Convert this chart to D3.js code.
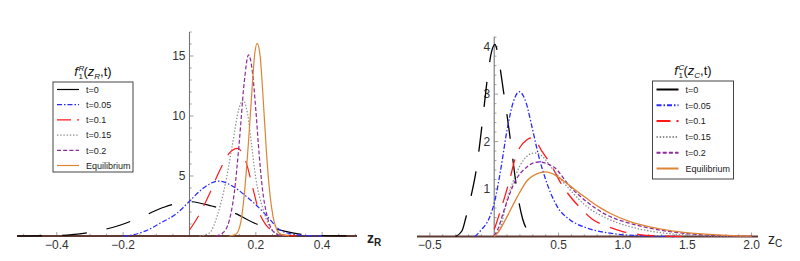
<!DOCTYPE html>
<html>
<head>
<meta charset="utf-8">
<script src="https://cdn.jsdelivr.net/npm/d3@7"></script>
<style>
    body { margin: 0; background: #fff; }
    svg { font-family: "Liberation Sans", Arial, sans-serif; }
    .tick-label { font-size: 12px; fill: #333; }
    .legend-text { font-size: 9px; fill: #222; }
</style>
</head>
<body>
<svg id="chart" width="800" height="261"></svg>
<script>
// series names shared by both panels
const seriesNames = ["t=0", "t=0.05", "t=0.1", "t=0.15", "t=0.2", "Equilibrium"];

// left panel, f1^R(zR,t): [zR, value]
const rT0 = [[-0.52, 0], [-0.42, 0.03], [-0.354, 0.12], [-0.28, 0.4], [-0.21, 0.9], [-0.14, 1.65], [-0.077, 2.4], [0, 2.86], [0.067, 2.5], [0.137, 1.89], [0.202, 1.0], [0.272, 0.5], [0.34, 0.13], [0.4, 0.04], [0.5, 0]];
const rT005 = [[-0.2, 0], [-0.17, 0.1], [-0.13, 0.45], [-0.089, 1.06], [-0.038, 1.89], [0, 2.9], [0.04, 3.95], [0.087, 4.58], [0.13, 4.15], [0.172, 3.28], [0.222, 2.0], [0.245, 1.3], [0.262, 0.75], [0.28, 0.4], [0.302, 0.2], [0.34, 0.05], [0.4, 0]];
const rT01 = [[0, 0.5], [0.03, 1.8], [0.06, 3.5], [0.09, 5.4], [0.12, 6.9], [0.145, 7.3], [0.17, 6.2], [0.19, 4.1], [0.21, 2.0], [0.23, 0.95], [0.25, 0.42], [0.28, 0.1], [0.31, 0.02], [0.35, 0]];
const rT015 = [[0.03, 0], [0.06, 0.25], [0.085, 1.8], [0.11, 4.6], [0.13, 7.7], [0.148, 10.5], [0.162, 11.3], [0.175, 10.2], [0.188, 7.4], [0.2, 4.8], [0.22, 2.4], [0.24, 0.85], [0.26, 0.25], [0.29, 0]];
const rT02 = [[0.08, 0], [0.1, 0.25], [0.12, 1.3], [0.135, 3.6], [0.15, 7.8], [0.165, 12.8], [0.178, 15.1], [0.19, 13.6], [0.2, 10.5], [0.21, 6.8], [0.22, 3.9], [0.232, 1.9], [0.245, 0.7], [0.26, 0.2], [0.28, 0]];
const rEq = [[0.12, 0], [0.14, 0.15], [0.155, 1.2], [0.165, 3.4], [0.177, 7.5], [0.188, 12], [0.196, 15], [0.204, 16.05], [0.213, 15], [0.222, 11.5], [0.232, 7], [0.242, 3.6], [0.252, 1.6], [0.262, 0.6], [0.275, 0.15], [0.3, 0]];

// right panel, f1^C(zC,t)
const cT0 = [[-0.3, 0], [-0.25, 0.12], [-0.22, 0.4], [-0.18, 0.85], [-0.14, 1.4], [-0.11, 2.0], [-0.08, 2.7], [-0.05, 3.4], [-0.02, 3.9], [0.005, 4.05], [0.04, 3.65], [0.07, 3.1], [0.1, 2.55], [0.13, 1.95], [0.16, 1.3], [0.19, 0.75], [0.22, 0.38], [0.26, 0.12], [0.3, 0.03], [0.35, 0]];
const cT005 = [[-0.15, 0], [-0.1, 0.14], [-0.04, 0.38], [0, 0.7], [0.05, 1.4], [0.1, 2.25], [0.15, 2.85], [0.195, 3.05], [0.25, 2.8], [0.29, 2.35], [0.35, 1.65], [0.41, 1.12], [0.49, 0.63], [0.59, 0.35], [0.72, 0.18], [0.9, 0.07], [1.1, 0.02], [1.4, 0]];
const cT01 = [[0, 0.15], [0.013, 0.25], [0.05, 0.56], [0.09, 0.91], [0.13, 1.3], [0.16, 1.62], [0.2, 1.88], [0.25, 2.03], [0.3, 2.08], [0.37, 1.8], [0.45, 1.47], [0.51, 1.16], [0.58, 0.88], [0.67, 0.6], [0.76, 0.37], [0.885, 0.21], [1.0, 0.105], [1.13, 0.04], [1.3, 0.01], [1.5, 0]];
const cT015 = [[0, 0.02], [0.05, 0.21], [0.1, 0.77], [0.167, 1.3], [0.23, 1.62], [0.31, 1.76], [0.36, 1.72], [0.46, 1.4], [0.59, 0.98], [0.72, 0.63], [0.87, 0.39], [1.05, 0.21], [1.2, 0.12], [1.4, 0.05], [1.6, 0.02], [1.8, 0.005], [2.0, 0]];
const cT02 = [[0, 0.02], [0.026, 0.14], [0.077, 0.56], [0.154, 1.12], [0.257, 1.47], [0.34, 1.57], [0.46, 1.47], [0.59, 1.05], [0.72, 0.73], [0.87, 0.46], [1.05, 0.28], [1.2, 0.18], [1.4, 0.09], [1.6, 0.04], [1.8, 0.015], [2.0, 0.005]];
const cEq = [[0, 0], [0.026, 0.07], [0.1, 0.42], [0.18, 0.84], [0.26, 1.19], [0.33, 1.32], [0.4, 1.36], [0.47, 1.3], [0.54, 1.17], [0.63, 0.98], [0.72, 0.8], [0.81, 0.63], [0.9, 0.49], [1.05, 0.32], [1.2, 0.21], [1.38, 0.12], [1.64, 0.05], [1.9, 0.015], [2.0, 0.01]];

// ticks
const rXTicks = [-0.4, -0.2, 0.2, 0.4];
const rYTicks = [5, 10, 15];
const cXTicks = [-0.5, 0.5, 1.0, 1.5, 2.0];
const cYTicks = [1, 2, 3, 4];

(function () {
    const svg = d3.select("#chart");

    const styles = [
        { color: "#000", dash: "25,20" },
        { color: "#2a2aff", dash: "5,2,1.5,2" },
        { color: "#ff1a1a", dash: "17,11" },
        { color: "#8c8c8c", dash: "1.4,1.8" },
        { color: "#8e2a9e", dash: "4,2.2" },
        { color: "#dc8434", dash: null },
    ];

    const fmt = function (d) {
        const s = Math.abs(d) < 1 && d % 1 !== 0 ? String(d) : d3.format(".1f")(d);
        return s.replace("-", "\u2212");
    };

    // writes text pieces left to right, measuring each one
    const writePieces = function (g, x, y, pieces) {
        let cx = x;
        pieces.forEach(pc => {
            const el = g.append("text")
                .attr("x", cx).attr("y", y + (pc.dy || 0))
                .attr("font-size", pc.size || 13)
                .attr("font-style", pc.italic ? "italic" : "normal")
                .attr("fill", "#111")
                .text(pc.t);
            if (!pc.stack) cx += el.node().getComputedTextLength() + (pc.gap || 0);
        });
        return cx - x;
    };

    const drawPanel = function (p) {
        const x = d3.scaleLinear().domain(p.xDomain).range(p.xRange);
        const y = d3.scaleLinear().domain(p.yDomain).range(p.yRange);
        const g = svg.append("g");

        // minor + major ticks on x axis
        const [x0, x1] = p.xDomain;
        const xMinor = d3.range(Math.ceil(x0 / p.xMinor), Math.floor(x1 / p.xMinor) + 1).map(i => +(i * p.xMinor).toFixed(4));
        g.append("g").selectAll("line").data(xMinor).join("line")
            .attr("x1", d => x(d)).attr("x2", d => x(d))
            .attr("y1", y(0)).attr("y2", d => y(0) - (p.xTicks.includes(d) ? 4 : 2.2))
            .attr("stroke", "#888").attr("stroke-width", 0.8);

        const yMinor = d3.range(1, Math.floor(p.yDomain[1] / p.yMinor) + 1).map(i => +(i * p.yMinor).toFixed(4));
        g.append("g").selectAll("line").data(yMinor).join("line")
            .attr("x1", x(0)).attr("x2", d => x(0) + (p.yTicks.includes(d) ? 4 : 2.2))
            .attr("y1", d => y(d)).attr("y2", d => y(d))
            .attr("stroke", "#888").attr("stroke-width", 0.8);

        // axes
        g.append("line")
            .attr("x1", x(0)).attr("x2", x(0))
            .attr("y1", y(0)).attr("y2", p.yRange[1])
            .attr("stroke", "#777").attr("stroke-width", 1.1);
        g.append("line")
            .attr("x1", p.xRange[0]).attr("x2", p.xRange[1])
            .attr("y1", y(0)).attr("y2", y(0))
            .attr("stroke", "#5e3a33").attr("stroke-width", 1.8);

        // tick labels
        g.append("g").selectAll("text").data(p.xTicks).join("text")
            .attr("class", "tick-label")
            .attr("x", d => x(d)).attr("y", y(0) + 12.5)
            .attr("text-anchor", "middle")
            .text(fmt);
        g.append("g").selectAll("text").data(p.yTicks).join("text")
            .attr("class", "tick-label")
            .attr("x", x(0) - 4).attr("y", d => y(d) + 4.3)
            .attr("text-anchor", "end")
            .text(d => d);

        // axis label
        const xl = g.append("text")
            .attr("x", p.xRange[1] + 10).attr("y", y(0) + 7)
            .attr("font-size", 14).attr("fill", "#222")
            .attr("font-weight", p.boldLabel ? "bold" : "normal");
        xl.append("tspan").text("z");
        xl.append("tspan").attr("font-size", 10).attr("dy", 3).text(p.sub);

        // curves
        const line = d3.line()
            .x(d => x(d[0])).y(d => y(d[1]))
            .curve(d3.curveMonotoneX);
        p.series.forEach((s, i) => {
            g.append("path")
                .datum(s)
                .attr("d", line)
                .attr("fill", "none")
                .attr("stroke", styles[i].color)
                .attr("stroke-width", p.lineWidth)
                .attr("stroke-dasharray", styles[i].dash);
        });

        // legend
        const lg = g.append("g");
        lg.append("rect")
            .attr("x", p.legend.x).attr("y", p.legend.y)
            .attr("width", p.legend.w).attr("height", p.legend.h)
            .attr("fill", "#fff").attr("stroke", "#444").attr("stroke-width", 1);
        seriesNames.forEach((name, i) => {
            const ry = p.legend.y + p.legend.first + i * p.legend.step;
            lg.append("line")
                .attr("x1", p.legend.x + 4).attr("x2", p.legend.x + 26)
                .attr("y1", ry).attr("y2", ry)
                .attr("stroke", styles[i].color)
                .attr("stroke-width", p.legend.lw)
                .attr("stroke-dasharray", i === 2 ? "14,6" : styles[i].dash);
            lg.append("text")
                .attr("class", "legend-text")
                .attr("x", p.legend.x + 33).attr("y", ry + 3.2)
                .text(name);
        });

        // legend title f_1^R(z_R,t), centred over the box
        const tg = lg.append("g");
        const ty = p.legend.y - 6;
        const w = writePieces(tg, 0, ty, [
            { t: "f", italic: true, gap: 0.5 },
            { t: p.sub, size: 8, italic: true, dy: -5, stack: true },
            { t: "1", size: 8, dy: 3, gap: 0.5 },
            { t: "(", gap: 0 },
            { t: "z", italic: true },
            { t: p.sub, size: 8, italic: true, dy: 3 },
            { t: ",t)" },
        ]);
        tg.attr("transform", "translate(" + (p.legend.x + p.legend.w / 2 - w / 2) + ",0)");
    };

    drawPanel({
        xDomain: [-0.52, 0.505], xRange: [17, 357],
        yDomain: [0, 17], yRange: [236, 32],
        xTicks: rXTicks, yTicks: rYTicks, xMinor: 0.05, yMinor: 1,
        sub: "R", boldLabel: true, lineWidth: 1.2,
        series: [rT0, rT005, rT01, rT015, rT02, rEq],
        legend: { x: 53, y: 82, w: 80, h: 90, first: 7.5, step: 15.2, lw: 1.2 },
    });

    drawPanel({
        xDomain: [-0.6, 2.05], xRange: [417, 758],
        yDomain: [0, 4.21], yRange: [236.5, 36.7],
        xTicks: cXTicks, yTicks: cYTicks, xMinor: 0.1, yMinor: 0.2,
        sub: "C", boldLabel: false, lineWidth: 1.3,
        series: [cT0, cT005, cT01, cT015, cT02, cEq],
        legend: { x: 652.5, y: 81, w: 81, h: 98, first: 8.5, step: 15.8, lw: 2 },
    });
})();
</script>
</body>
</html>
